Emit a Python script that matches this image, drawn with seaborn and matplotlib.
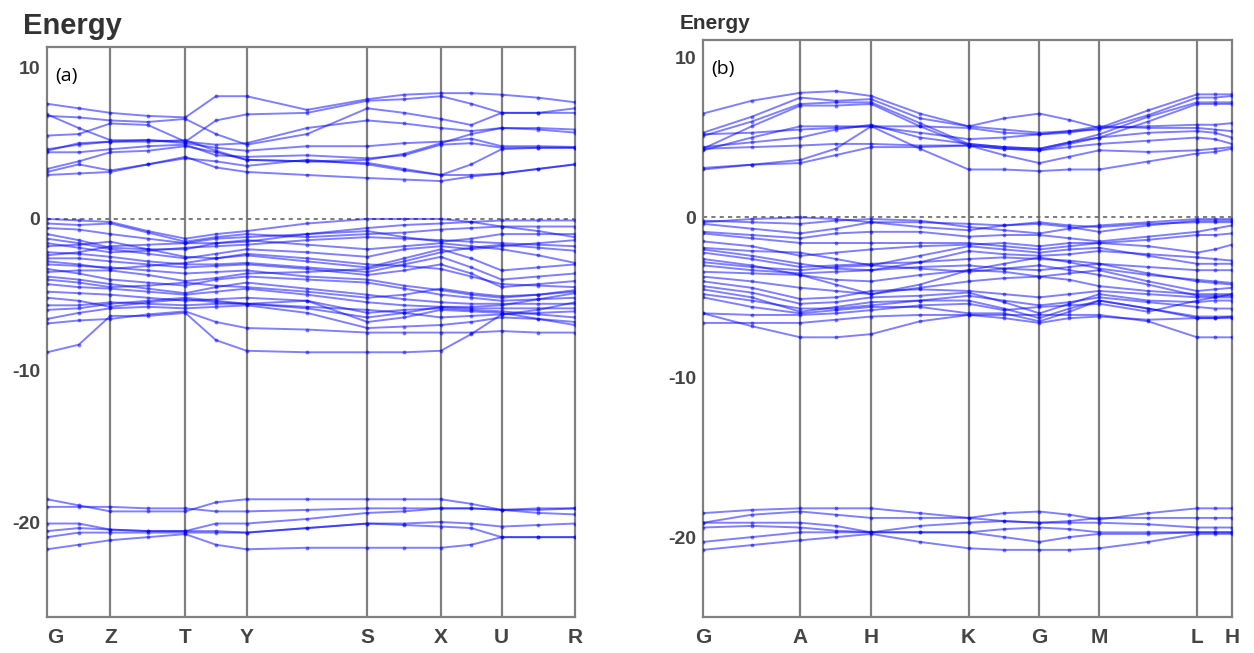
import numpy as np
import pandas as pd
import matplotlib
matplotlib.use("Agg")
import matplotlib.pyplot as plt
import seaborn as sns

# ---- panel (a) path: high-symmetry points (fraction of path length) ----
labels_a = ["G", "Z", "T", "Y", "S", "X", "U", "R"]
pos_a = [0.0, 0.120, 0.262, 0.378, 0.607, 0.746, 0.861, 1.0]

# energies (eV) at G, mid, Z, mid, T, mid, Y, mid, S, mid, X, mid, U, mid, R
cond_a = [
    [7.6, 7.3, 7.0, 6.8, 6.7, 8.1, 8.1, 7.2, 7.9, 8.2, 8.3, 8.3, 8.2, 8.0, 7.7],
    [6.9, 6.0, 5.2, 5.2, 5.1, 6.5, 6.9, 7.0, 7.8, 7.9, 8.1, 7.6, 7.0, 7.0, 7.3],
    [6.8, 6.7, 6.5, 6.4, 6.6, 5.6, 4.9, 5.6, 7.3, 7.0, 6.6, 6.2, 7.0, 7.0, 7.0],
    [5.5, 5.6, 6.3, 6.2, 5.1, 4.9, 5.0, 6.0, 6.5, 6.3, 6.0, 5.8, 6.0, 5.9, 5.7],
    [4.5, 5.0, 5.1, 5.2, 5.0, 4.7, 4.5, 4.8, 4.8, 5.0, 5.1, 5.3, 4.8, 4.8, 4.75],
    [4.4, 4.4, 4.6, 4.8, 4.9, 4.2, 4.1, 4.2, 4.0, 4.2, 4.9, 5.0, 4.7, 4.7, 4.7],
    [3.3, 3.8, 4.4, 4.5, 4.8, 4.4, 3.9, 3.8, 3.9, 4.3, 5.0, 5.6, 6.0, 6.0, 5.9],
    [3.1, 3.6, 3.2, 3.6, 4.0, 3.8, 3.5, 3.9, 3.6, 3.2, 2.9, 2.9, 3.0, 3.3, 3.6],
    [2.9, 3.0, 3.1, 3.6, 4.1, 3.4, 3.1, 2.9, 2.7, 2.6, 2.5, 2.8, 3.0, 3.3, 3.6],
    [4.6, 4.9, 5.1, 5.1, 5.2, 4.5, 3.9, 3.8, 3.7, 3.3, 2.9, 3.6, 4.6, 4.7, 4.7],
]
val_a = [
    [0.0, -0.1, -0.2, -0.8, -1.3, -1.0, -0.8, -0.3, 0.0, 0.0, 0.0, -0.2, -0.5, -0.5, -0.5],
    [-0.3, -0.4, -0.3, -0.9, -1.5, -1.2, -1.0, -1.2, -1.0, -0.9, -0.7, -0.6, -0.5, -0.8, -1.2],
    [-0.6, -0.7, -1.0, -1.3, -1.6, -1.6, -1.5, -1.0, -0.8, -1.2, -1.5, -1.3, -1.0, -1.0, -1.0],
    [-1.0, -1.4, -1.9, -2.0, -2.0, -1.6, -1.4, -1.7, -2.0, -1.8, -1.6, -1.8, -2.0, -2.4, -2.9],
    [-1.3, -1.6, -2.0, -2.3, -2.6, -2.3, -2.0, -2.2, -2.5, -2.0, -1.8, -2.0, -1.8, -1.6, -1.4],
    [-1.8, -1.7, -1.5, -2.0, -2.5, -2.6, -2.4, -2.8, -3.2, -2.6, -2.0, -2.6, -3.4, -3.2, -3.0],
    [-2.2, -2.3, -2.5, -2.8, -3.0, -3.0, -2.9, -3.2, -3.5, -3.0, -2.5, -3.2, -4.0, -3.8, -3.6],
    [-2.6, -2.6, -2.8, -3.0, -3.2, -3.1, -3.0, -3.3, -3.7, -3.4, -3.0, -3.6, -4.5, -4.3, -4.1],
    [-3.0, -3.1, -3.2, -3.4, -3.6, -3.5, -3.4, -3.8, -4.0, -4.4, -4.7, -5.0, -5.2, -5.0, -4.7],
    [-3.3, -3.6, -4.0, -4.2, -4.4, -4.0, -3.8, -4.0, -4.2, -4.6, -5.0, -5.2, -5.4, -5.3, -5.2],
    [-3.8, -4.0, -4.3, -4.6, -4.9, -4.5, -4.2, -4.6, -5.0, -5.3, -5.5, -5.6, -5.6, -5.6, -5.6],
    [-4.3, -4.5, -4.6, -4.8, -5.0, -4.8, -4.6, -5.0, -5.5, -5.7, -5.8, -5.9, -5.9, -5.9, -5.9],
    [-4.8, -4.9, -5.0, -5.2, -5.4, -5.3, -5.2, -5.4, -6.2, -6.0, -5.9, -6.0, -6.1, -6.3, -6.5],
    [-5.7, -5.7, -5.5, -5.6, -5.7, -5.6, -5.6, -5.4, -6.8, -6.5, -6.0, -6.1, -6.2, -6.6, -7.0],
    [-6.6, -6.2, -5.9, -5.8, -5.9, -5.8, -5.7, -6.2, -7.2, -7.1, -7.0, -6.8, -6.5, -6.6, -6.8],
    [-6.9, -6.7, -6.6, -6.3, -6.1, -6.8, -7.2, -7.3, -7.5, -7.5, -7.5, -7.5, -7.4, -7.5, -7.5],
    [-8.8, -8.3, -6.4, -6.4, -6.2, -8.0, -8.7, -8.8, -8.8, -8.8, -8.7, -7.6, -6.3, -6.0, -5.5],
    [-2.4, -2.2, -1.8, -1.7, -1.6, -1.3, -1.2, -1.0, -0.6, -0.4, -0.3, -0.2, -0.1, -0.1, -0.1],
    [-3.5, -3.4, -3.4, -3.7, -4.1, -3.9, -3.6, -3.5, -3.3, -2.8, -2.2, -1.9, -1.7, -1.9, -2.1],
    [-5.2, -5.4, -5.8, -5.5, -5.3, -5.5, -5.6, -5.9, -6.5, -6.2, -5.8, -5.8, -5.7, -5.3, -4.9],
    [-1.6, -1.9, -2.2, -2.1, -1.9, -1.8, -1.7, -1.4, -1.2, -1.3, -1.4, -1.5, -1.6, -1.7, -1.8],
    [-2.8, -3.0, -3.3, -3.1, -2.9, -2.6, -2.3, -2.6, -3.0, -3.1, -3.3, -3.8, -4.3, -4.4, -4.5],
    [-4.0, -4.2, -4.5, -4.4, -4.2, -4.4, -4.5, -4.8, -5.2, -5.0, -4.6, -4.9, -5.1, -5.0, -4.8],
    [-6.0, -5.9, -5.6, -5.4, -5.2, -5.4, -5.6, -5.8, -6.0, -6.2, -6.5, -6.4, -6.3, -6.2, -6.1],
]
deep_a = [
    [-18.5, -18.9, -19.3, -19.3, -19.3, -18.7, -18.5, -18.5, -18.5, -18.5, -18.5, -18.8, -19.2, -19.1, -19.1],
    [-19.0, -19.0, -19.0, -19.1, -19.1, -19.3, -19.3, -19.2, -19.1, -19.1, -19.1, -19.1, -19.2, -19.4, -19.5],
    [-20.1, -20.1, -20.5, -20.6, -20.6, -20.1, -20.1, -19.8, -19.4, -19.3, -19.1, -19.1, -19.2, -19.2, -19.1],
    [-20.6, -20.4, -20.5, -20.6, -20.6, -20.6, -20.7, -20.4, -20.1, -20.1, -20.0, -20.1, -20.3, -20.2, -20.1],
    [-21.0, -20.7, -20.7, -20.7, -20.7, -20.7, -20.7, -20.4, -20.1, -20.2, -20.3, -20.4, -21.0, -21.0, -21.0],
    [-21.8, -21.5, -21.2, -21.0, -20.8, -21.5, -21.8, -21.7, -21.7, -21.7, -21.7, -21.5, -21.0, -21.0, -21.0],
]

# ---- panel (b) path ----
labels_b = ["G", "A", "H", "K", "G", "M", "L", "H"]
pos_b = [0.0, 0.184, 0.318, 0.502, 0.636, 0.749, 0.934, 1.0]

# energies at G, mid, A, mid, H, mid, K, mid, G, mid, M, mid, L, mid, H
cond_b = [
    [6.5, 7.3, 7.8, 7.9, 7.6, 6.5, 5.7, 6.2, 6.5, 6.1, 5.6, 6.7, 7.7, 7.7, 7.7],
    [5.3, 6.3, 7.5, 7.3, 7.4, 6.2, 5.7, 5.5, 5.3, 5.4, 5.5, 6.4, 7.5, 7.5, 7.6],
    [5.1, 6.0, 7.1, 7.2, 7.2, 5.9, 4.6, 4.4, 4.3, 4.7, 5.2, 6.3, 7.2, 7.2, 7.2],
    [4.3, 5.7, 7.0, 7.0, 7.1, 5.7, 4.5, 4.3, 4.2, 4.6, 5.0, 6.0, 7.1, 7.1, 7.1],
    [4.2, 5.0, 5.7, 5.7, 5.7, 5.7, 5.6, 5.3, 5.2, 5.3, 5.6, 5.7, 5.8, 5.8, 5.9],
    [5.2, 5.3, 5.5, 5.6, 5.7, 5.3, 4.9, 5.0, 5.2, 5.4, 5.7, 5.6, 5.6, 5.5, 5.4],
    [4.4, 4.7, 5.0, 5.5, 5.8, 5.0, 4.6, 4.4, 4.3, 4.7, 5.0, 5.3, 5.4, 5.3, 5.0],
    [4.3, 4.4, 4.5, 4.6, 4.6, 4.5, 4.5, 4.3, 4.2, 4.4, 4.6, 4.8, 5.0, 4.9, 4.6],
    [3.1, 3.3, 3.4, 3.9, 4.4, 4.4, 4.5, 3.9, 3.4, 3.8, 4.2, 4.1, 4.2, 4.3, 4.4],
    [3.0, 3.3, 3.6, 4.3, 5.7, 4.3, 3.0, 3.0, 2.9, 3.0, 3.0, 3.5, 4.0, 4.1, 4.3],
]
val_b = [
    [-0.3, -0.1, 0.0, -0.1, -0.3, -0.6, -0.8, -0.5, -0.4, -0.6, -0.9, -0.5, -0.2, -0.2, -0.2],
    [-0.4, -0.7, -1.0, -0.7, -0.3, -0.3, -0.4, -0.5, -0.3, -0.5, -0.6, -0.4, -0.3, -0.3, -0.3],
    [-0.9, -1.1, -1.3, -1.0, -0.9, -0.9, -1.2, -1.1, -1.1, -1.3, -1.5, -1.2, -0.9, -0.7, -0.5],
    [-1.0, -1.3, -1.6, -1.6, -1.6, -1.6, -1.6, -1.8, -2.0, -1.8, -1.6, -1.8, -2.2, -2.0, -1.7],
    [-2.0, -2.4, -2.9, -3.2, -3.3, -2.8, -2.1, -2.3, -2.4, -2.3, -2.1, -2.3, -2.5, -2.6, -2.7],
    [-2.2, -2.6, -3.1, -3.0, -2.9, -2.8, -2.6, -2.5, -2.6, -2.7, -2.9, -3.1, -3.3, -3.3, -3.3],
    [-3.0, -3.3, -3.5, -3.4, -3.3, -3.1, -3.0, -3.2, -3.3, -3.1, -2.9, -3.5, -4.0, -4.1, -4.2],
    [-3.4, -3.5, -3.6, -4.2, -4.8, -4.2, -3.3, -3.4, -3.7, -3.5, -3.3, -4.0, -4.6, -4.5, -4.4],
    [-3.7, -4.0, -4.4, -4.6, -4.8, -4.4, -4.0, -3.8, -3.7, -3.9, -4.3, -4.6, -4.8, -4.8, -4.8],
    [-4.0, -4.4, -5.1, -5.0, -4.6, -4.5, -4.6, -4.8, -5.0, -4.8, -4.6, -4.8, -5.0, -5.0, -5.0],
    [-4.3, -4.7, -5.4, -5.3, -5.0, -4.9, -4.7, -5.3, -6.0, -5.4, -4.8, -5.2, -5.3, -5.2, -5.2],
    [-4.5, -5.0, -5.9, -5.6, -5.3, -5.2, -5.2, -5.7, -6.3, -5.7, -5.2, -5.7, -6.2, -6.2, -6.2],
    [-5.0, -5.6, -6.0, -5.8, -5.6, -5.6, -6.0, -6.0, -6.5, -5.9, -5.2, -5.7, -6.3, -6.3, -6.3],
    [-6.0, -6.1, -6.1, -6.0, -5.8, -5.5, -5.4, -5.8, -5.6, -5.5, -5.4, -5.9, -5.2, -5.0, -4.8],
    [-6.0, -6.8, -7.5, -7.5, -7.3, -6.5, -6.1, -6.1, -6.1, -6.1, -6.1, -6.5, -7.5, -7.5, -7.5],
    [-6.6, -6.6, -6.6, -6.4, -6.2, -6.1, -6.1, -6.3, -6.6, -6.3, -6.2, -6.4, -6.3, -6.3, -6.2],
    [-1.5, -1.8, -2.4, -2.2, -2.0, -1.8, -1.7, -1.6, -1.8, -1.6, -1.6, -1.4, -1.1, -1.1, -1.0],
    [-2.6, -3.0, -3.6, -3.9, -4.0, -3.6, -3.3, -2.9, -2.5, -2.8, -3.2, -3.6, -3.9, -4.0, -4.1],
    [-0.2, -0.3, -0.4, -0.2, -0.1, -0.2, -0.6, -0.8, -1.0, -0.7, -0.5, -0.3, -0.1, -0.1, -0.1],
    [-1.9, -2.1, -2.2, -2.6, -3.0, -2.4, -1.8, -2.0, -2.2, -2.0, -1.9, -2.4, -2.9, -2.9, -2.9],
    [-2.8, -3.1, -3.3, -3.1, -3.0, -3.2, -3.4, -3.2, -3.0, -3.3, -3.6, -4.2, -4.9, -4.9, -4.9],
    [-4.8, -5.2, -5.7, -5.7, -5.5, -5.2, -4.9, -5.2, -5.5, -5.3, -5.0, -5.3, -5.6, -5.7, -5.7],
]
deep_b = [
    [-18.5, -18.3, -18.2, -18.2, -18.2, -18.5, -18.8, -18.5, -18.4, -18.6, -18.9, -18.5, -18.2, -18.2, -18.2],
    [-19.1, -18.6, -18.4, -18.6, -18.8, -18.8, -18.8, -19.0, -19.1, -19.0, -18.8, -18.8, -18.8, -18.8, -18.8],
    [-19.1, -19.1, -19.1, -19.3, -19.7, -19.3, -19.1, -19.0, -19.1, -19.1, -19.1, -19.2, -19.4, -19.4, -19.4],
    [-19.4, -19.3, -19.4, -19.6, -19.7, -19.7, -19.7, -19.5, -19.4, -19.5, -19.7, -19.7, -19.7, -19.7, -19.7],
    [-20.3, -20.0, -19.7, -19.7, -19.7, -19.7, -19.7, -20.0, -20.3, -20.0, -19.8, -19.8, -19.7, -19.7, -19.7],
    [-20.8, -20.5, -20.2, -20.0, -19.8, -20.3, -20.7, -20.8, -20.8, -20.8, -20.7, -20.3, -19.8, -19.8, -19.8],
]


def k_axis(pos):
    # high-symmetry points with a midpoint between each pair
    ks = []
    for i in range(len(pos) - 1):
        ks.append(pos[i])
        ks.append((pos[i] + pos[i + 1]) / 2)
    ks.append(pos[-1])
    return np.array(ks)


def band_frame(pos, *groups):
    ks = k_axis(pos)
    rows = []
    n = 0
    for group in groups:
        for band in group:
            for k, e in zip(ks, band):
                rows.append({"k": k, "E": e, "band": n})
            n += 1
    return pd.DataFrame(rows)


def draw_panel(ax, pos, labels, df, ylim, tag, title, title_size, first_left):
    for p in pos[1:-1]:
        ax.axvline(p, color="#808080", lw=1.6, zorder=1)
    ax.axhline(0, color="#666666", lw=1.2, ls=(0, (2.5, 2.5)), zorder=1)
    sns.lineplot(data=df, x="k", y="E", units="band", estimator=None,
                 color="#0000ff", alpha=0.5, lw=1.4, marker="o",
                 markersize=2.8, markeredgewidth=0, sort=False, ax=ax,
                 zorder=3)
    ax.set_xlim(0, 1)
    ax.set_ylim(*ylim)
    ax.set_xticks(pos)
    ax.set_xticklabels(labels)
    ax.set_yticks([10, 0, -10, -20])
    ax.set_yticklabels(["10", "0", "-10", "-20"])
    ax.set_yticks([5, -5, -15, -25], minor=True)
    ax.tick_params(axis="y", which="both", length=3, width=1.2,
                   color="#555555", labelsize=14, labelcolor="#444444", pad=2)
    ax.tick_params(axis="x", length=0, labelsize=15, labelcolor="#444444",
                   pad=8)
    for lab in ax.get_yticklabels():
        lab.set_fontweight("bold")
    for lab in ax.get_xticklabels():
        lab.set_fontweight("bold")
    if first_left:
        ax.get_xticklabels()[0].set_horizontalalignment("left")
    for s in ax.spines.values():
        s.set_color("#808080")
        s.set_linewidth(1.6)
    ax.set_xlabel("")
    ax.set_ylabel("")
    ax.grid(False)
    ax.text(0.016, 0.965, tag, transform=ax.transAxes, fontsize=14,
            va="top", ha="left", color="black", family="Open Sans")
    ax.text(-0.045, 1.012, title, transform=ax.transAxes, fontsize=title_size,
            fontweight="bold", color="#333333", va="bottom", ha="left")


sns.set_style("white")
plt.rcParams["font.family"] = ["Liberation Sans", "DejaVu Sans"]

fig = plt.figure(figsize=(12.54, 6.53), dpi=100)
ax_a = fig.add_axes([0.0375, 0.0551, 0.421, 0.873])
ax_b = fig.add_axes([0.5606, 0.0551, 0.4219, 0.8836])

df_a = band_frame(pos_a, cond_a, val_a, deep_a)
df_b = band_frame(pos_b, cond_b, val_b, deep_b)

draw_panel(ax_a, pos_a, labels_a, df_a, (-26.27, 11.35), "(a)", "Energy", 21, True)
draw_panel(ax_b, pos_b, labels_b, df_b, (-24.94, 11.1), "(b)", "Energy", 15, False)

fig.savefig("out.png", dpi=100)
